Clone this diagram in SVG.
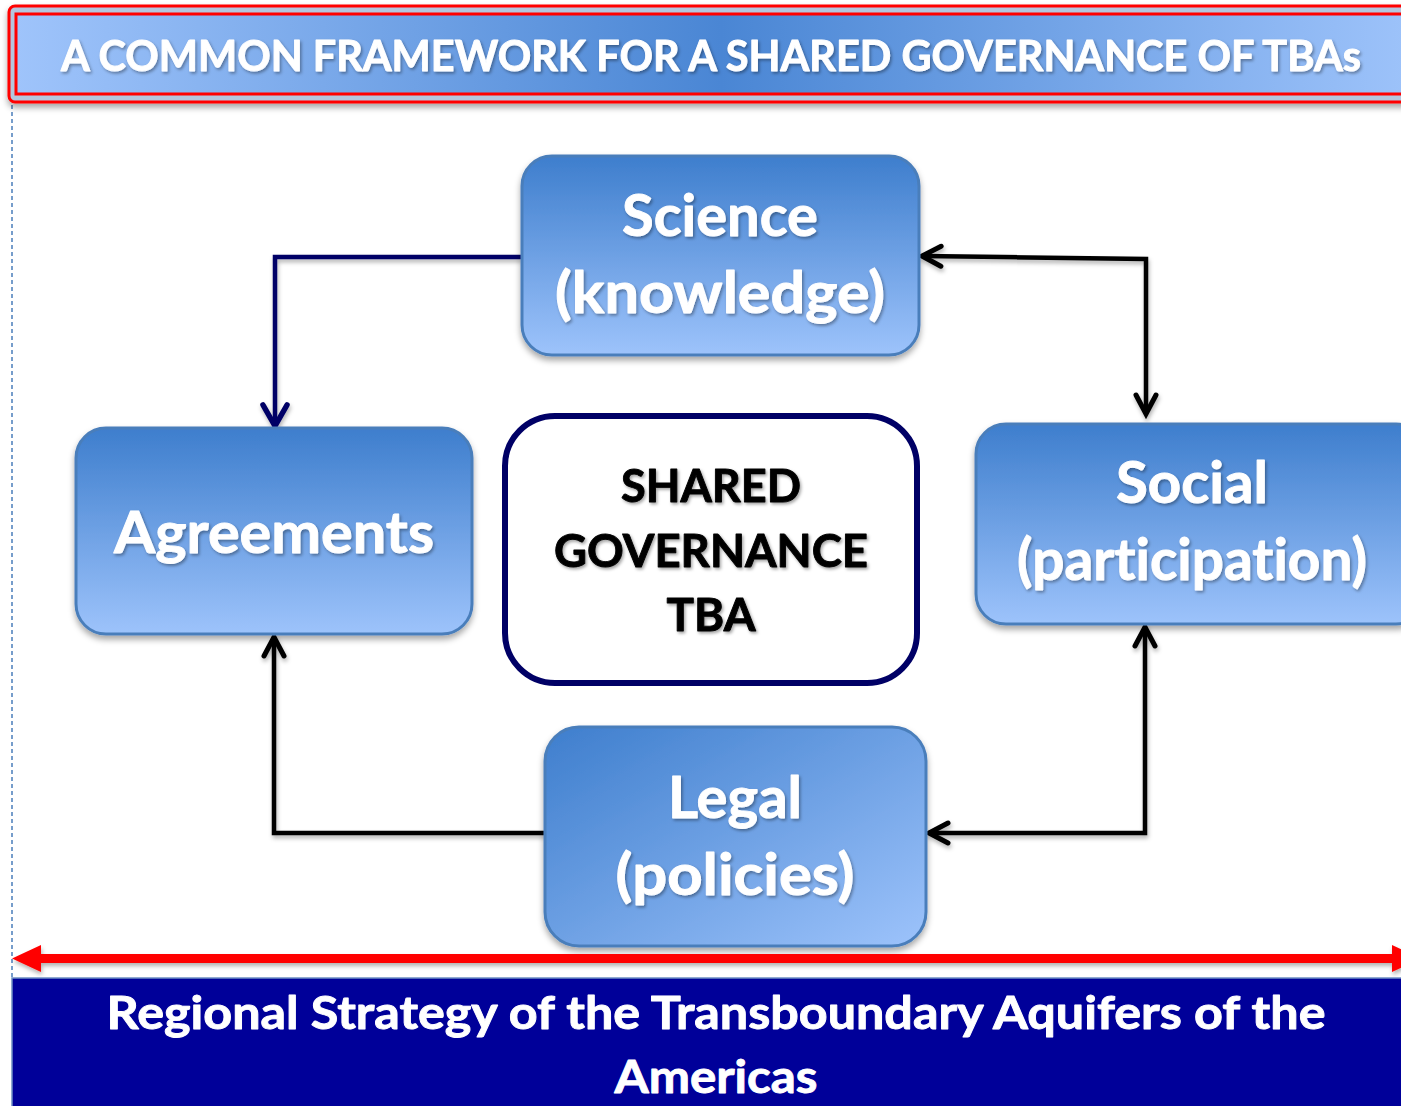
<svg xmlns="http://www.w3.org/2000/svg" width="1401" height="1106" viewBox="0 0 1401 1106">
  <defs>
    <linearGradient id="gTitle" x1="0" y1="0" x2="1" y2="0">
      <stop offset="0" stop-color="#9fc4fb"/>
      <stop offset="0.5" stop-color="#4a86d4"/>
      <stop offset="1" stop-color="#9fc4fb"/>
    </linearGradient>
    <linearGradient id="gBox" x1="0" y1="0" x2="0" y2="1">
      <stop offset="0" stop-color="#3e7ecd"/>
      <stop offset="1" stop-color="#9dc3fb"/>
    </linearGradient>
    <linearGradient id="gDiag" x1="0" y1="0" x2="1" y2="1">
      <stop offset="0" stop-color="#3e7ecd"/>
      <stop offset="1" stop-color="#9dc3fb"/>
    </linearGradient>
    <filter id="boxShadow" x="-10%" y="-10%" width="120%" height="130%">
      <feDropShadow dx="0" dy="4" stdDeviation="3" flood-color="#000" flood-opacity="0.35"/>
    </filter>
    <filter id="lineShadow" filterUnits="userSpaceOnUse" x="0" y="0" width="1401" height="1106">
      <feDropShadow dx="1" dy="3" stdDeviation="2" flood-color="#000" flood-opacity="0.3"/>
    </filter>
    <filter id="textShadow" x="-5%" y="-20%" width="110%" height="150%">
      <feDropShadow dx="1.5" dy="2" stdDeviation="1.5" flood-color="#000" flood-opacity="0.35"/>
    </filter>
    <marker id="chev" markerUnits="userSpaceOnUse" markerWidth="32" markerHeight="32" viewBox="-26 -16 32 32" refX="0" refY="0" orient="auto-start-reverse">
      <path d="M-19,-10 L0,0 L-19,10" fill="none" stroke="#000" stroke-width="5" stroke-linecap="round" stroke-linejoin="miter"/>
    </marker>
    <marker id="chevNavy" markerUnits="userSpaceOnUse" markerWidth="34" markerHeight="34" viewBox="-28 -17 34 34" refX="0" refY="0" orient="auto">
      <path d="M-21,-12 L0,0 L-21,12" fill="none" stroke="#000066" stroke-width="5.5" stroke-linecap="round"/>
    </marker>
    <style>
      .lbl { font-family: Lato, "Open Sans", "Liberation Sans", sans-serif; font-weight: bold; text-anchor: middle; font-variant-ligatures: none; stroke-width: 0.9; stroke-linejoin: round; }
      .white { fill: #ffffff; stroke: #ffffff; filter: url(#textShadow); }
      .black { fill: #000000; stroke: #000000; filter: url(#textShadow); }
      .box { fill: url(#gBox); stroke: #4a7ebb; stroke-width: 3; filter: url(#boxShadow); }
      .conn { fill: none; stroke: #000; stroke-width: 4.5; }
    </style>
  </defs>

  <rect width="1401" height="1106" fill="#ffffff"/>

  <!-- left guide line -->
  <line x1="12" y1="105" x2="12" y2="978" stroke="#4a7ebb" stroke-width="1.5" stroke-dasharray="4 3"/>

  <!-- title banner -->
  <g id="title">
    <rect x="9" y="6" width="1420" height="96" rx="6" fill="#b4c6de" stroke="#ff0000" stroke-width="3" filter="url(#boxShadow)"/>
    <rect x="16" y="14" width="1410" height="80" fill="url(#gTitle)" stroke="#ff0000" stroke-width="3"/>
    <text class="lbl white" x="711" y="71" font-size="42" textLength="1300" lengthAdjust="spacingAndGlyphs">A COMMON FRAMEWORK FOR A SHARED GOVERNANCE OF TBAs</text>
  </g>

  <!-- connectors -->
  <g id="connectors">
    <path d="M521,257 H275 V426" fill="none" stroke="#000066" stroke-width="4.5" marker-end="url(#chevNavy)" filter="url(#lineShadow)"/>
    <path class="conn" d="M922,256 L1146,259 V414" marker-start="url(#chev)" marker-end="url(#chev)" filter="url(#lineShadow)"/>
    <path class="conn" d="M929,833 H1145 V627" marker-start="url(#chev)" marker-end="url(#chev)" filter="url(#lineShadow)"/>
    <path class="conn" d="M545,833 H274 V637" marker-end="url(#chev)" filter="url(#lineShadow)"/>
  </g>

  <g id="science">
    <rect class="box" x="522" y="156" width="397" height="199" rx="30"/>
    <text class="lbl white" x="720" y="236" font-size="57" textLength="196" lengthAdjust="spacingAndGlyphs">Science</text>
    <text class="lbl white" x="720" y="313" font-size="57" textLength="330" lengthAdjust="spacingAndGlyphs">(knowledge)</text>
  </g>

  <g id="agreements">
    <rect class="box" x="76" y="428" width="396" height="206" rx="30"/>
    <text class="lbl white" x="274" y="553" font-size="57" textLength="320" lengthAdjust="spacingAndGlyphs">Agreements</text>
  </g>

  <g id="shared-governance">
    <rect x="505" y="416" width="412" height="267" rx="50" fill="#ffffff" stroke="#000066" stroke-width="6"/>
    <text class="lbl black" x="711" y="502" font-size="45" textLength="180" lengthAdjust="spacingAndGlyphs">SHARED</text>
    <text class="lbl black" x="711" y="567" font-size="45" textLength="314" lengthAdjust="spacingAndGlyphs">GOVERNANCE</text>
    <text class="lbl black" x="711" y="631" font-size="45" textLength="89" lengthAdjust="spacingAndGlyphs">TBA</text>
  </g>

  <g id="social">
    <rect class="box" x="976" y="424" width="450" height="200" rx="30"/>
    <text class="lbl white" x="1192" y="503" font-size="57" textLength="152" lengthAdjust="spacingAndGlyphs">Social</text>
    <text class="lbl white" x="1192" y="580" font-size="57" textLength="350" lengthAdjust="spacingAndGlyphs">(participation)</text>
  </g>

  <g id="legal">
    <rect class="box" x="545" y="727" width="381" height="219" rx="34" style="fill:url(#gDiag)"/>
    <text class="lbl white" x="735" y="818" font-size="57" textLength="134" lengthAdjust="spacingAndGlyphs">Legal</text>
    <text class="lbl white" x="735" y="895" font-size="57" textLength="239" lengthAdjust="spacingAndGlyphs">(policies)</text>
  </g>

  <!-- regional span arrow, heads at both ends -->
  <g id="span-arrow">
    <path d="M12,958.5 L41,945 L41,954 L1392,954 L1392,945 L1421,958.5 L1392,972 L1392,963 L41,963 L41,972 Z" fill="#ff0000" filter="url(#lineShadow)"/>
  </g>

  <g id="regional-strategy">
    <rect x="12" y="978" width="1400" height="130" fill="#000099" stroke="#6d8fc4" stroke-width="1.5"/>
    <text class="lbl" x="716" y="1029" font-size="46" fill="#ffffff" stroke="#ffffff" textLength="1219" lengthAdjust="spacingAndGlyphs">Regional Strategy of the Transboundary Aquifers of the</text>
    <text class="lbl" x="716" y="1093" font-size="46" fill="#ffffff" stroke="#ffffff" textLength="203" lengthAdjust="spacingAndGlyphs">Americas</text>
  </g>
</svg>
